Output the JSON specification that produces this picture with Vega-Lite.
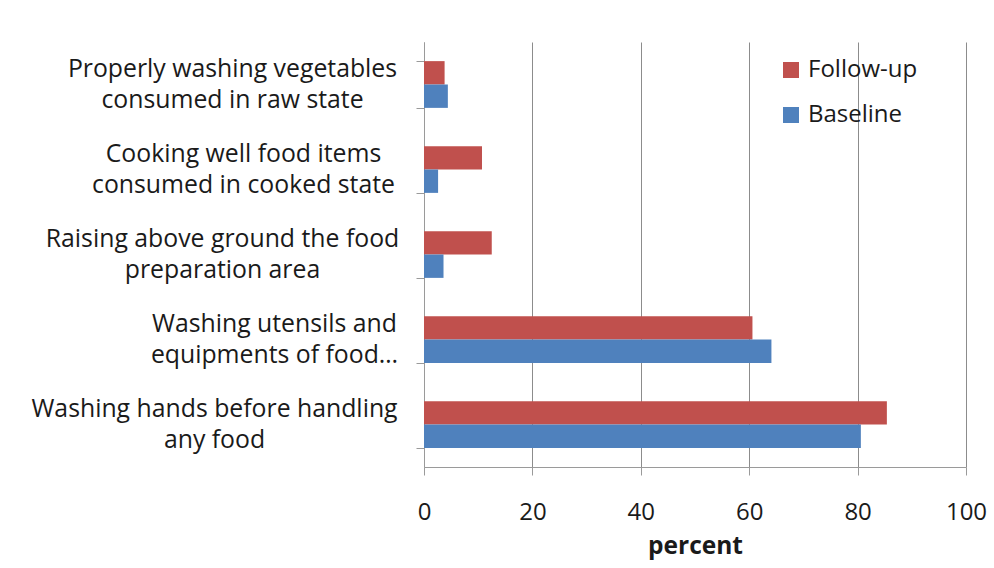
{
  "$schema": "https://vega.github.io/schema/vega-lite/v6.json",
  "width": 542,
  "height": 425,
  "autosize": {"type": "none"},
  "padding": {"left": 424, "top": 42, "right": 28, "bottom": 101},
  "background": "white",
  "config": {
    "view": {"stroke": null},
    "font": "Open Sans",
    "axis": {"labelFont": "Open Sans", "titleFont": "Open Sans", "labelColor": "#1a1a1a", "titleColor": "#1a1a1a"}
  },
  "data": {
    "values": [
      {"practice": "Properly washing vegetables|consumed in raw state", "group": "Follow-up", "percent": 3.8},
      {"practice": "Properly washing vegetables|consumed in raw state", "group": "Baseline", "percent": 4.4},
      {"practice": "Cooking well food items|consumed in cooked state", "group": "Follow-up", "percent": 10.7},
      {"practice": "Cooking well food items|consumed in cooked state", "group": "Baseline", "percent": 2.6},
      {"practice": "Raising above ground the food|preparation area", "group": "Follow-up", "percent": 12.5},
      {"practice": "Raising above ground the food|preparation area", "group": "Baseline", "percent": 3.6},
      {"practice": "Washing utensils and|equipments of food…", "group": "Follow-up", "percent": 60.6},
      {"practice": "Washing utensils and|equipments of food…", "group": "Baseline", "percent": 64.1},
      {"practice": "Washing hands before handling|any food", "group": "Follow-up", "percent": 85.4},
      {"practice": "Washing hands before handling|any food", "group": "Baseline", "percent": 80.6}
    ]
  },
  "mark": {"type": "bar"},
  "encoding": {
    "y": {
      "field": "practice",
      "type": "nominal",
      "sort": [
        "Properly washing vegetables|consumed in raw state",
        "Cooking well food items|consumed in cooked state",
        "Raising above ground the food|preparation area",
        "Washing utensils and|equipments of food…",
        "Washing hands before handling|any food"
      ],
      "scale": {"paddingInner": 0.45, "paddingOuter": 0.225},
      "axis": {
        "title": null,
        "labelExpr": "split(datum.label, '|')",
        "labelFontSize": 24.8,
        "labelLineHeight": 31,
        "labelAlign": "center",
        "labelOffset": -15,
        "labelPadding": {
          "condition": [
            {"test": "datum.value == 'Properly washing vegetables|consumed in raw state'", "value": 184},
            {"test": "datum.value == 'Cooking well food items|consumed in cooked state'", "value": 173},
            {"test": "datum.value == 'Raising above ground the food|preparation area'", "value": 194},
            {"test": "datum.value == 'Washing utensils and|equipments of food…'", "value": 142}
          ],
          "value": 202
        },
        "labelLimit": 400,
        "tickBand": "extent",
        "tickSize": 8,
        "tickColor": "#9a9a9a",
        "domainColor": "#9a9a9a",
        "grid": false
      }
    },
    "yOffset": {
      "field": "group",
      "type": "nominal",
      "sort": ["Follow-up", "Baseline"],
      "scale": {"paddingInner": 0, "paddingOuter": 0}
    },
    "x": {
      "field": "percent",
      "type": "quantitative",
      "scale": {"domain": [0, 100], "nice": false},
      "axis": {
        "title": "percent",
        "values": [0, 20, 40, 60, 80, 100],
        "labelFlush": false,
        "labelFontSize": 24,
        "labelPadding": 25,
        "titleFontSize": 24.5,
        "titleFontWeight": "bold",
        "titlePadding": 10,
        "tickSize": 8,
        "tickColor": "#9a9a9a",
        "domainColor": "#9a9a9a",
        "grid": true,
        "gridColor": "#8c8c8c",
        "gridWidth": 1
      }
    },
    "color": {
      "field": "group",
      "type": "nominal",
      "scale": {"domain": ["Follow-up", "Baseline"], "range": ["#C0504D", "#4F81BD"]},
      "legend": {
        "title": null,
        "orient": "none",
        "legendX": 355,
        "legendY": 16,
        "symbolType": "square",
        "symbolSize": 256,
        "symbolStrokeWidth": 0,
        "labelFontSize": 24,
        "labelColor": "#1a1a1a",
        "labelFont": "Open Sans",
        "labelOffset": 5,
        "rowPadding": 21
      }
    }
  }
}
